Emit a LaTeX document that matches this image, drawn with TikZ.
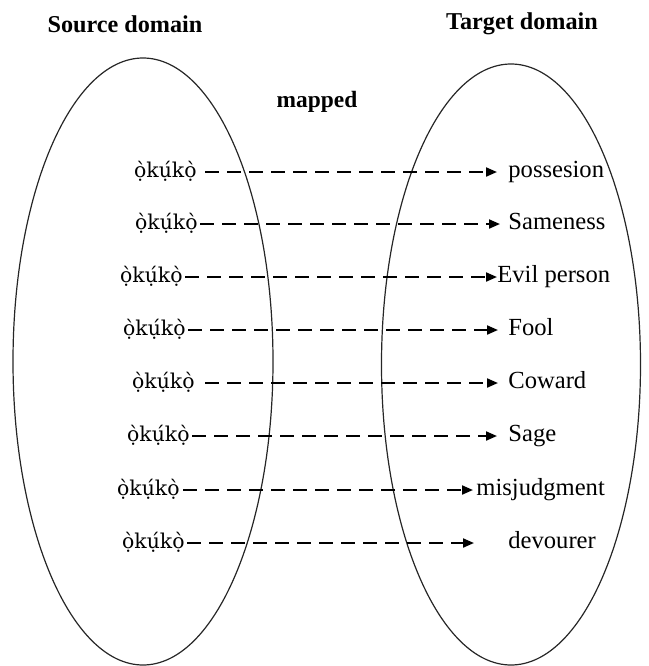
\documentclass[tikz,border=0pt]{standalone}
\usepackage{fontspec}
\setmainfont{Liberation Serif}
% marks above and below sit right in this family
\newfontfamily\igbofont{DejaVu Serif}
\usepackage{tikz}
\usetikzlibrary{arrows.meta, positioning}

\tikzset{
  srcword/.style={inner sep=0pt, anchor=east, text height=8pt, text depth=2.5pt, font=\igbofont\fontsize{10.2}{12}\selectfont},
  tgtword/.style={inner sep=0pt, anchor=west, text height=8pt, text depth=2.5pt},
  maplink/.style={draw, line width=1pt, dash pattern=on 7pt off 4pt, -{Triangle[length=5.5pt, width=4.5pt]}},
  headword/.style={font=\fontsize{12.1}{14}\selectfont\bfseries}
}

\begin{document}
\begin{tikzpicture}[x=0.5pt, y=-0.5pt, font=\fontsize{12.3}{14}\selectfont]
\useasboundingbox (0,0) rectangle (649,666);
\draw[line width=0.6pt, black!85] (143,361.5) ellipse [x radius=65pt, y radius=151.75pt];
\draw[line width=0.6pt, black!85] (511,364.5) ellipse [x radius=64.75pt, y radius=150.25pt];
\node[headword] (srcdom) at (125,24) {Source domain};
\node[headword] (tgtdom) at (522,24) {Target domain};
\node[headword, font=\fontsize{11.7}{14}\selectfont\bfseries] (mapped) at (317,102) {mapped};
% row / y / source right end / start gap / target text / text left / end gap
\foreach \i/\y/\sx/\sg/\t/\tx/\tg in {
  1/172/197/8/possesion/508/11,
  2/224/198/2/Sameness/508/8,
  3/277/183/2/Evil person/497/0,
  4/330/186/2/Fool/508/10,
  5/383/195/10/Coward/508/10,
  6/436/190/2/Sage/508/11,
  7/490/180/3/misjudgment/476/3,
  8/543/185/2/devourer/508/34} {
  \node[srcword] (src\i) at (\sx,\y) {ọ̀kụ́kọ̀};
  \node[tgtword] (tgt\i) at (\tx,\y) {\t};
  \draw[maplink, shorten <=\sg*0.5pt, shorten >=\tg*0.5pt] (src\i.east) -- (tgt\i.west);
}
\end{tikzpicture}
\end{document}
